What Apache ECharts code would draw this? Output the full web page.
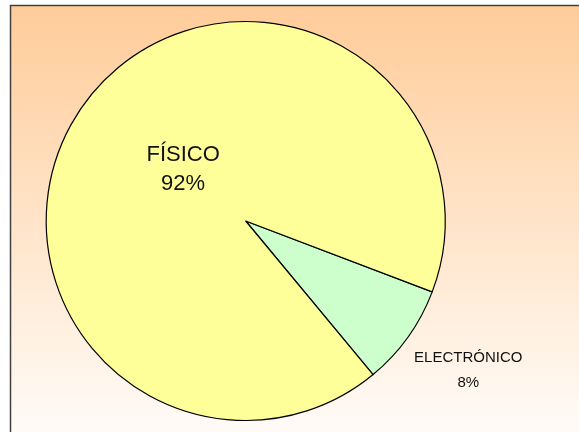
<!DOCTYPE html>
<html>
<head>
<meta charset="utf-8">
<script src="https://cdn.jsdelivr.net/npm/echarts@6/dist/echarts.min.js"></script>
<style>
  html, body { margin: 0; padding: 0; background: #fff; }
  #chart { width: 579px; height: 432px; }
</style>
</head>
<body>
<div id="chart"></div>
<script>
// datos del gráfico
const categories = ['ELECTRÓNICO', 'FÍSICO'];
const values = [8.2, 91.8];
const colors = ['#CCFFCC', '#FFFF99'];

const myChart = echarts.init(document.getElementById('chart'), null, { renderer: 'canvas' });

const pieData = categories.map((name, i) => ({
  name: name,
  value: values[i],
  itemStyle: { color: colors[i] },
  label: i === 0
    ? {
        offset: [139, 90],
        fontFamily: '"Liberation Sans Narrow", "Arial Narrow", "Liberation Sans", Arial, sans-serif',
        fontSize: 15,
        lineHeight: 25,
      }
    : {
        offset: [21, 8],
        fontFamily: '"Liberation Sans", Arial, sans-serif',
        fontSize: 22,
        lineHeight: 29,
      },
}));

const option = {
  animation: false,
  graphic: [
    {
      type: 'rect',
      z: -10,
      silent: true,
      shape: { x: 10.5, y: 5.5, width: 600, height: 460 },
      style: {
        fill: new echarts.graphic.LinearGradient(0, 0, 0, 1, [
          { offset: 0, color: '#FFCC99' },
          { offset: 1, color: '#FFFFFF' },
        ]),
        stroke: '#404040',
        lineWidth: 1.5,
      },
    },
  ],
  series: [
    {
      type: 'pie',
      center: [245.7, 221],
      radius: 199.5,
      startAngle: -20.8,
      clockwise: true,
      percentPrecision: 0,
      itemStyle: {
        borderColor: '#000',
        borderWidth: 1.2,
      },
      label: {
        show: true,
        position: 'inside',
        color: '#111',
        formatter: '{b}\n{d}%',
        align: 'center',
      },
      labelLine: { show: false },
      emphasis: { disabled: true },
      data: pieData,
    },
  ],
};

myChart.setOption(option);
</script>
</body>
</html>
